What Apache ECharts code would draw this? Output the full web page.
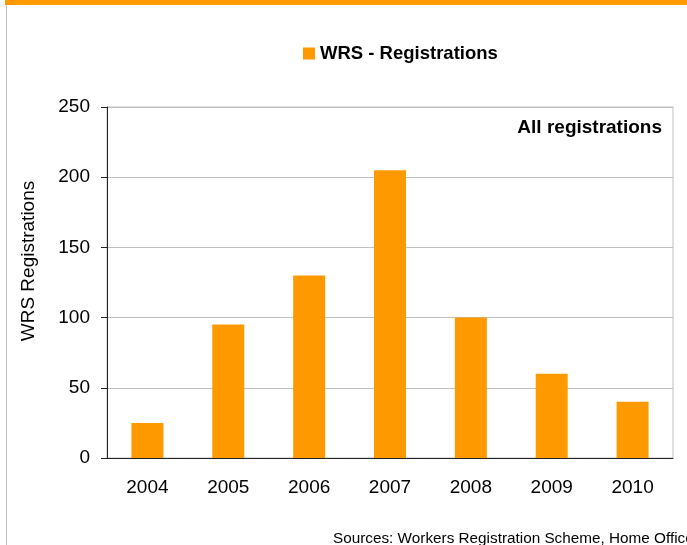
<!DOCTYPE html>
<html>
<head>
<meta charset="utf-8">
<script src="https://cdn.jsdelivr.net/npm/echarts@6/dist/echarts.min.js"></script>
<style>
  html, body { margin: 0; padding: 0; background: #fff; }
  #chart { width: 687px; height: 545px; }
</style>
</head>
<body>
<div id="chart"></div>
<script>
// WRS registrations per year (thousands)
const years = ["2004", "2005", "2006", "2007", "2008", "2009", "2010"];
const registrations = [25, 95, 130, 205, 100, 60, 40];
const yTicks = { min: 0, max: 250, interval: 50 };

const orange = "#FF9900";
const font = "Liberation Sans, Arial, sans-serif";

const myChart = echarts.init(document.getElementById("chart"));
myChart.setOption({
  animation: false,
  backgroundColor: "#fff",
  textStyle: { fontFamily: font },
  grid: {
    left: 107, right: 14, top: 107, bottom: 87,
    show: true, borderColor: "#c0c0c0", borderWidth: 1
  },
  legend: {
    top: 39,
    left: 298,
    itemWidth: 12,
    itemHeight: 12,
    itemGap: 5,
    icon: "rect",
    textStyle: { fontSize: 18.5, fontWeight: "bold", color: "#000", fontFamily: font },
    data: ["WRS - Registrations"]
  },
  xAxis: {
    type: "category",
    data: years,
    axisLine: { lineStyle: { color: "#222", width: 1 } },
    axisTick: { show: false },
    axisLabel: { fontSize: 19, color: "#000", margin: 20 }
  },
  yAxis: {
    type: "value",
    min: yTicks.min,
    max: yTicks.max,
    interval: yTicks.interval,
    axisLine: { show: true, lineStyle: { color: "#222", width: 1 } },
    axisTick: { show: true, length: 6, lineStyle: { color: "#222" } },
    axisLabel: { fontSize: 19, color: "#000", margin: 17 },
    splitLine: { lineStyle: { color: "#c0c0c0" } }
  },
  series: [
    {
      name: "WRS - Registrations",
      type: "bar",
      data: registrations,
      barWidth: 32,
      itemStyle: { color: orange }
    }
  ],
  graphic: [
    { type: "rect", shape: { x: 5, y: 0, width: 682, height: 5 }, style: { fill: orange } },
    { type: "rect", shape: { x: 6, y: 5, width: 1, height: 540 }, style: { fill: "#c0c0c0" } },
    {
      type: "text", x: 29, y: 261, rotation: Math.PI / 2,
      style: { text: "WRS Registrations", font: "19px " + font, fill: "#000", align: "center", verticalAlign: "middle" }
    },
    {
      type: "text", right: 25, top: 118,
      style: { text: "All registrations", font: "bold 19px " + font, fill: "#000" }
    },
    {
      type: "text", left: 333, top: 531,
      style: { text: "Sources: Workers Registration Scheme, Home Office", font: "15.3px " + font, fill: "#000" }
    }
  ]
});
</script>
</body>
</html>
